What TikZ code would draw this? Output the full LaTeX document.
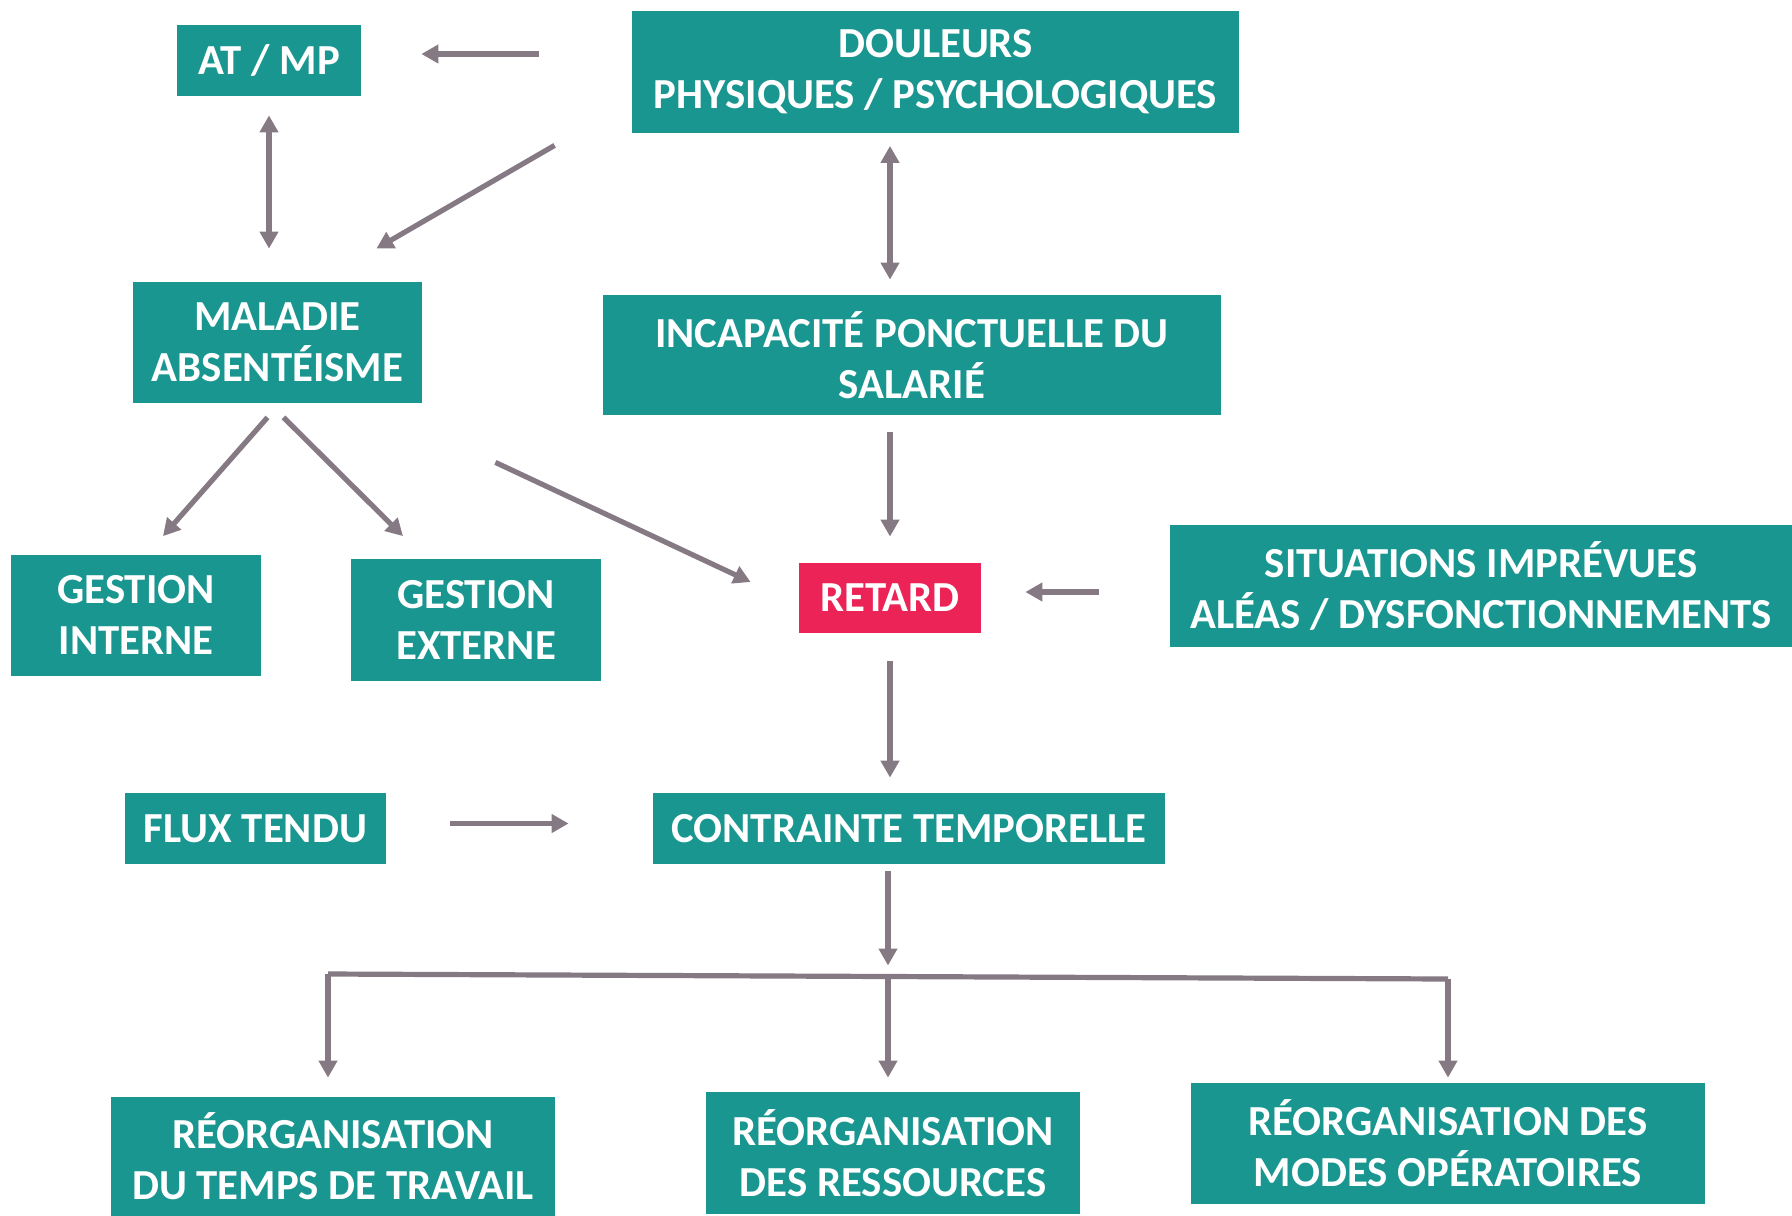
\documentclass[tikz,border=0pt]{standalone}
\usepackage{fontspec}
\setmainfont{Carlito}
\usepackage{tikz}
\usetikzlibrary{arrows.meta,positioning,calc}
\definecolor{MapTeal}{HTML}{1A9690}
\definecolor{MapRed}{HTML}{EC2356}
\definecolor{MapGray}{HTML}{857A84}

\begin{document}
\begin{tikzpicture}[x=0.5pt, y=-0.5pt, every node/.style={font=\fontsize{21.4}{25.5}\selectfont\bfseries}, box/.style={fill=MapTeal, text=white, inner sep=0pt, align=center, minimum height=61pt}, flat/.style={box, minimum height=35.5pt}, arrow/.style={-{Triangle[length=8.5pt,width=9pt]}, line width=2.6pt, color=MapGray}, link/.style={line width=2.6pt, color=MapGray}]
\useasboundingbox (0,0) rectangle (1792,1215);
\node[flat, minimum width=92pt] (atmp) at (269,60.5) {AT / MP};
\node[box, minimum width=303.5pt] (douleurs) at (935.5,71.5) {DOULEURS\\PHYSIQUES / PSYCHOLOGIQUES};
\node[box, minimum width=144.5pt, minimum height=60.5pt] (maladie) at (277.5,342.5) {MALADIE\\ABSENTÉISME};
\node[box, minimum width=309pt, minimum height=60pt] (incap) at (912,355) {INCAPACITÉ PONCTUELLE DU\\SALARIÉ};
\node[box, minimum width=125pt, minimum height=60.5pt] (gint) at (136,615) {GESTION\\INTERNE};
\node[box, minimum width=125pt] (gext) at (476,619.5) {GESTION\\EXTERNE};
\node[flat, fill=MapRed, minimum width=91pt, minimum height=35pt] (retard) at (890,598) {RETARD};
\node[box, minimum width=311pt] (situ) at (1481,585.5) {SITUATIONS IMPRÉVUES\\ALÉAS / DYSFONCTIONNEMENTS};
\node[flat, minimum width=130.5pt] (flux) at (255.5,828.5) {FLUX TENDU};
\node[flat, minimum width=256pt] (contrainte) at (909,828.5) {CONTRAINTE TEMPORELLE};
\node[box, minimum width=222pt, minimum height=59.5pt] (rtemps) at (333,1156.5) {RÉORGANISATION\\DU TEMPS DE TRAVAIL};
\node[box, minimum width=187pt] (rress) at (893,1153) {RÉORGANISATION\\DES RESSOURCES};
\node[box, minimum width=257pt, minimum height=60.5pt] (rmodes) at (1448,1143.5) {RÉORGANISATION DES\\MODES OPÉRATOIRES};
% split bar
\coordinate (barL) at (328,974);
\coordinate (barM) at (888,976.5);
\coordinate (barR) at (1448,979);
\draw[arrow, shorten <=46.5pt, shorten >=30pt] ([yshift=3.25pt]douleurs.west |- atmp.east) -- ([yshift=3.25pt]atmp.east);
\draw[arrow] ($(douleurs.south west)+(-77,12.5)$) -- ($(maladie.north east)+(-46,-33)$);
\draw[arrow, {Triangle[length=8.5pt,width=9pt]}-{Triangle[length=8.5pt,width=9pt]}, shorten <=9.5pt, shorten >=16.5pt] (atmp.south) -- (atmp.south |- maladie.north);
\draw[arrow, {Triangle[length=8.5pt,width=9pt]}-{Triangle[length=8.5pt,width=9pt]}, shorten <=6.5pt, shorten >=7.5pt] (retard |- douleurs.south) -- (retard |- incap.north);
\draw[arrow] ($(maladie.south)+(-10,14)$) -- ($(gint.north)+(27,-18)$);
\draw[arrow] ($(maladie.south)+(6,14)$) -- ($(gext.north)+(-73,-22)$);
\draw[arrow] ($(maladie.south east)+(73,59)$) -- ($(retard.west)+(-48,-16)$);
\draw[arrow, shorten <=8.5pt, shorten >=13pt] (retard |- incap.south) -- (retard.north);
\draw[arrow, shorten <=35.5pt, shorten >=22pt] ([yshift=3pt]situ.west |- retard.east) -- ([yshift=3pt]retard.east);
\draw[arrow, shorten <=14pt, shorten >=7.5pt] (retard.south) -- (retard.south |- contrainte.north);
\draw[arrow, shorten <=32pt, shorten >=42pt] ([yshift=2.5pt]flux.east) -- ([yshift=2.5pt]contrainte.west);
\draw[arrow, shorten <=3.5pt, shorten >=5.5pt] (barM |- contrainte.south) -- (barM);
\draw[link] (barL) -- (barR);
\draw[arrow] (barL) -- ([yshift=9.5pt]barL |- rtemps.north);
\draw[arrow] (barM) -- ([yshift=7pt]barM |- rress.north);
\draw[arrow] (barR) -- ([yshift=2.5pt]barR |- rmodes.north);
\end{tikzpicture}
\end{document}
